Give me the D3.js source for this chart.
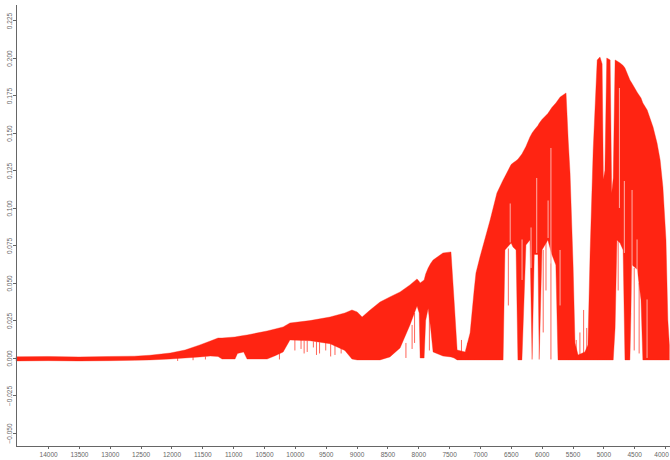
<!DOCTYPE html>
<html>
<head>
<meta charset="utf-8">
<script src="https://cdn.jsdelivr.net/npm/d3@7"></script>
<style>
  body { margin: 0; background: #fff; }
  .axis path, .axis line { stroke: #666; shape-rendering: crispEdges; }
  .axis text { fill: #666; font-family: "Liberation Sans", Arial, sans-serif; font-size: 6.5px; }
</style>
</head>
<body>
<div id="chart"></div>
<script>
// spectrum envelope (wavenumber, top of band, bottom of band)
var wavenumbers = [14520, 14000, 13500, 13000, 12600, 12350, 12020, 11780, 11540, 11370,
  11245, 11180, 10970, 10930, 10830, 10775, 10450, 10320, 10190, 10080,
  9755, 9430, 9190, 9075, 8990, 8910, 8780, 8620, 8460, 8295,
  8135, 8020, 7985, 7970, 7905, 7880, 7840, 7800, 7760, 7600, 7470, 7420,
  7370, 7240, 7160, 7095, 7065, 7000, 6835, 6725, 6625, 6595,
  6495, 6465, 6415, 6385, 6320, 6255, 6190, 6155, 6120, 6060,
  6040, 5995, 5900, 5835, 5770, 5735, 5700, 5605, 5570, 5540,
  5490, 5460, 5410, 5300, 5250, 5215, 5165, 5100, 5055, 5020,
  5000, 4975, 4945, 4890, 4865, 4840, 4810, 4780, 4730, 4680,
  4650, 4570, 4535, 4450, 4390, 4360, 4290, 4195, 4130, 4080,
  4035, 3985, 3955, 3930];
var upper = [0.0008, 0.0010, 0.0007, 0.0010, 0.0012, 0.0018, 0.0033, 0.0053, 0.0087, 0.0113,
  0.0133, 0.0133, 0.0140, 0.0143, 0.0150, 0.0153, 0.0180, 0.0193, 0.0207, 0.0233,
  0.0249, 0.0273, 0.0300, 0.0320, 0.0307, 0.0273, 0.0320, 0.0373, 0.0407, 0.0440,
  0.0487, 0.0527, 0.0510, 0.0500, 0.0520, 0.0560, 0.0600, 0.0630, 0.0653, 0.0700, 0.0707, 0.0387,
  0.0053, 0.0040, 0.0167, 0.0450, 0.0567, 0.0673, 0.0920, 0.1100, 0.1187, 0.1210,
  0.1290, 0.1300, 0.1315, 0.1325, 0.1360, 0.1410, 0.1473, 0.1500, 0.1520, 0.1550,
  0.1565, 0.1590, 0.1630, 0.1670, 0.1700, 0.1720, 0.1740, 0.1767, 0.1453, 0.1233,
  0.0607, 0.0100, 0.0020, 0.0040, 0.0087, 0.0700, 0.1387, 0.1987, 0.2007, 0.1960,
  0.1190, 0.1250, 0.2000, 0.1987, 0.1100, 0.1200, 0.1987, 0.1980, 0.1967, 0.1950,
  0.1933, 0.1853, 0.1830, 0.1770, 0.1733, 0.1700, 0.1653, 0.1540, 0.1433, 0.1320,
  0.1140, 0.0787, 0.0253, 0.0087];
var lower = [-0.0020, -0.0018, -0.0020, -0.0018, -0.0016, -0.0013, -0.0007, 0.0000, 0.0007, 0.0013,
  0.0010, -0.0007, -0.0007, 0.0030, 0.0040, -0.0007, -0.0007, 0.0015, 0.0040, 0.0120,
  0.0115, 0.0095, 0.0050, -0.0007, -0.0013, -0.0013, -0.0013, -0.0013, 0.0007, 0.0067,
  0.0220, 0.0347, 0.0300, 0.0000, 0.0000, 0.0250, 0.0330, 0.0200, 0.0040, 0.0013, 0.0007, 0.0000,
  -0.0013, -0.0013, -0.0013, -0.0013, -0.0013, -0.0013, -0.0013, -0.0013, -0.0013, 0.0720,
  0.0767, 0.0740, 0.0720, -0.0013, -0.0013, 0.0753, 0.0787, -0.0010, 0.0690, 0.0690,
  -0.0010, 0.0720, 0.0787, 0.0690, 0.0620, -0.0013, -0.0013, -0.0013, -0.0013, -0.0013,
  -0.0013, -0.0013, -0.0013, -0.0013, -0.0013, -0.0013, -0.0013, -0.0013, -0.0013, -0.0013,
  -0.0013, -0.0013, -0.0013, -0.0013, -0.0013, -0.0013, 0.0200, 0.0787, 0.0767, 0.0720,
  -0.0013, -0.0013, 0.0620, 0.0590, 0.0387, -0.0013, -0.0013, -0.0013, -0.0013, -0.0013,
  -0.0013, -0.0013, -0.0013, -0.0013];

// single lines sticking out of the band (wavenumber, from, to)
var spikeWn = [11900, 11650, 11450, 10250, 10000, 9900, 9850, 9800, 9700, 9650, 9600, 9500, 9420, 9350, 9250,
  8200, 8100, 8060, 7820, 7300, 7200, 6540, 5975, 5930, 5850,
  5440, 5380, 5320, 5270, 4760, 4600, 4500, 4420];
var spikeHi = [0.0000, 0.0010, 0.0010, 0.0040, 0.0120, 0.0120, 0.0115, 0.0115, 0.0110, 0.0110, 0.0105, 0.0100, 0.0095, 0.0090, 0.0070,
  0.0100, 0.0220, 0.0300, 0.0300, 0.0120, 0.0100, 0.0730, 0.0720, 0.0780, 0.0750,
  0.0120, 0.0170, 0.0320, 0.0200, 0.0787, 0.0700, 0.0600, 0.0500];
var spikeLo = [-0.0020, -0.0015, -0.0010, -0.0010, 0.0050, 0.0060, 0.0030, 0.0040, 0.0070, 0.0020, 0.0030, 0.0050, 0.0010, 0.0020, 0.0030,
  0.0000, 0.0060, 0.0100, 0.0050, -0.0010, -0.0010, 0.0350, 0.0170, 0.0450, -0.0010,
  -0.0010, -0.0010, -0.0010, -0.0010, 0.0450, 0.0200, 0.0050, 0.0030];

// thin absorption lines cutting into the band (wavenumber, from, to)
var dipWn = [6510, 6318, 6172, 6080, 5896, 5850, 5702, 4740, 4660, 4535, 4454, 4292];
var dipHi = [0.1030, 0.0790, 0.0870, 0.1200, 0.1050, 0.1400, 0.0720, 0.1800, 0.1180, 0.1120, 0.0790, 0.0390];
var dipLo = [0.0770, 0.0520, 0.0600, 0.0700, 0.0800, 0.0630, 0.0350, 0.1000, 0.0700, 0.0300, 0.0300, 0.0000];

var xTicks = [14000, 13500, 13000, 12500, 12000, 11500, 11000, 10500, 10000, 9500,
  9000, 8500, 8000, 7500, 7000, 6500, 6000, 5500, 5000, 4500, 4000];
var yTicks = [-0.05, -0.025, 0, 0.025, 0.05, 0.075, 0.1, 0.125, 0.15, 0.175, 0.2, 0.225];

var width = 670, height = 460;
var plotLeft = 16, plotTop = 4, plotBottom = 446;

var svg = d3.select("#chart")
  .append("svg")
    .attr("width", width)
    .attr("height", height);

// wavenumber axis runs high to low
var x = d3.scaleLinear()
    .domain([14520, 3920])
    .range([plotLeft, width]);
var y = d3.scaleLinear()
    .domain([-0.0587, 0.236])
    .range([plotBottom, plotTop]);

var band = wavenumbers.map(function(w, i) { return {wn: w, up: upper[i], lo: lower[i]}; });
var red = "#ff2412";

var area = d3.area()
    .x(function(d) { return x(d.wn); })
    .y0(function(d) { return y(d.lo); })
    .y1(function(d) { return y(d.up); });

svg.append("path")
    .datum(band)
    .attr("d", area)
    .attr("fill", red)
    .attr("stroke", red)
    .attr("stroke-width", 0.6)
    .attr("stroke-opacity", 0.6);

svg.selectAll(".spike")
  .data(spikeWn)
  .enter()
  .append("line")
    .attr("class", "spike")
    .attr("x1", function(d) { return x(d); })
    .attr("x2", function(d) { return x(d); })
    .attr("y1", function(d, i) { return y(spikeHi[i]); })
    .attr("y2", function(d, i) { return y(spikeLo[i]); })
    .attr("stroke", red)
    .attr("stroke-opacity", 0.7)
    .attr("stroke-width", 1);

svg.selectAll(".dip")
  .data(dipWn)
  .enter()
  .append("line")
    .attr("class", "dip")
    .attr("x1", function(d) { return x(d); })
    .attr("x2", function(d) { return x(d); })
    .attr("y1", function(d, i) { return y(dipHi[i]); })
    .attr("y2", function(d, i) { return y(dipLo[i]); })
    .attr("stroke", "#fff")
    .attr("stroke-opacity", 0.8)
    .attr("stroke-width", 0.8);

// axes
var xAxis = svg.append("g")
    .attr("class", "axis")
    .attr("transform", "translate(0," + plotBottom + ")")
    .call(d3.axisBottom(x).tickValues(xTicks).tickSize(3).tickSizeOuter(0).tickPadding(3).tickFormat(d3.format("d")));

// last label sits against the right edge, nudge it in
xAxis.selectAll("text")
    .filter(function(d) { return d === 4000; })
    .attr("dx", -4);

var yAxis = svg.append("g")
    .attr("class", "axis")
    .attr("transform", "translate(" + plotLeft + ",0)")
    .call(d3.axisLeft(y).tickValues(yTicks).tickSize(3).tickSizeOuter(0).tickFormat(d3.format(".3f")));

yAxis.selectAll("text")
    .attr("transform", "rotate(-90)")
    .attr("x", 0)
    .attr("y", -6.5)
    .attr("dy", "0.35em")
    .style("text-anchor", "middle");
</script>
</body>
</html>
